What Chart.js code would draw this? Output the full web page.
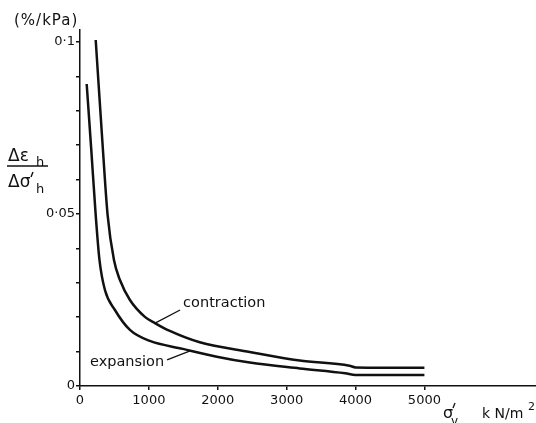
<!DOCTYPE html>
<html>
<head>
<meta charset="utf-8">
<script src="https://cdn.jsdelivr.net/npm/chart.js@4/dist/chart.umd.min.js"></script>
<style>
  body { margin: 0; background: #fff; }
  #wrap { width: 536px; height: 423px; }
</style>
</head>
<body>
<div id="wrap"><canvas id="strainChart" width="536" height="423"></canvas></div>
<script>
// sigma'v (kN/m2) against d(eps_h)/d(sigma'_h) (%/kPa)
const contractionX = [228, 333, 401, 493, 580, 725, 942, 1087, 1304, 1739, 2464, 3188, 3913, 4000, 5000];
const contractionY = [0.1006, 0.0686, 0.0497, 0.0366, 0.0308, 0.0250, 0.0201, 0.0183, 0.0160, 0.0127, 0.0099, 0.0074, 0.0059, 0.0054, 0.0053];

const expansionX = [97, 164, 228, 283, 362, 507, 725, 1014, 1493, 1986, 2464, 3188, 3850, 4000, 5000];
const expansionY = [0.0878, 0.0686, 0.0497, 0.0366, 0.0279, 0.0221, 0.0163, 0.0131, 0.0108, 0.0085, 0.0068, 0.0051, 0.0037, 0.0032, 0.0032];

const xTickValues = [0, 1000, 2000, 3000, 4000, 5000];
const xTickLabels = ['0', '1000', '2000', '3000', '4000', '5000'];
const yTickValues = [0, 0.01, 0.02, 0.03, 0.04, 0.05, 0.06, 0.07, 0.08, 0.09, 0.1];
const yTickLabels = ['0', '', '', '', '', '0·05', '', '', '', '', '0·1'];

const INK = '#111';
const FONT = "'DejaVu Sans', sans-serif";

function toPoints(xs, ys) {
    return xs.map((x, i) => ({ x: x, y: ys[i] }));
}

function prime(ctx, x, y) {
    ctx.beginPath();
    ctx.moveTo(x + 2, y - 4);
    ctx.lineTo(x, y + 1);
    ctx.stroke();
}

// axis titles and the two curve labels
const notes = {
    id: 'notes',
    afterDraw(chart) {
        const ctx = chart.ctx;
        const sx = chart.scales.x, sy = chart.scales.y;
        ctx.save();
        ctx.fillStyle = INK;
        ctx.strokeStyle = INK;
        ctx.textBaseline = 'alphabetic';

        // units above the y axis
        ctx.font = '15px ' + FONT;
        ctx.letterSpacing = '1px';
        ctx.fillText('(%/kPa)', 14, 25);
        ctx.letterSpacing = '0px';

        // y title as a fraction
        ctx.font = '17px ' + FONT;
        ctx.fillText('Δε', 8, 161);
        ctx.fillText('Δσ', 8, 187);
        ctx.font = '13px ' + FONT;
        ctx.fillText('h', 36, 166);
        ctx.fillText('h', 36, 193);
        ctx.lineWidth = 1.4;
        prime(ctx, 31, 176);
        ctx.lineWidth = 1.5;
        ctx.beginPath();
        ctx.moveTo(7, 166);
        ctx.lineTo(48, 166);
        ctx.stroke();

        // x title
        ctx.font = '16px ' + FONT;
        ctx.fillText('σ', 443, 418);
        ctx.font = '12px ' + FONT;
        ctx.fillText('v', 451, 425);
        ctx.lineWidth = 1.3;
        prime(ctx, 453, 407);
        ctx.font = '14px ' + FONT;
        ctx.fillText('k N/m', 482, 418);
        ctx.font = '11px ' + FONT;
        ctx.fillText('2', 528, 410);

        // curve labels with leader lines
        ctx.font = '14.5px ' + FONT;
        ctx.textBaseline = 'middle';
        ctx.fillText('contraction', sx.getPixelForValue(1497), sy.getPixelForValue(0.0241));
        ctx.fillText('expansion', sx.getPixelForValue(145), sy.getPixelForValue(0.0070));
        ctx.lineWidth = 1.3;
        ctx.beginPath();
        ctx.moveTo(sx.getPixelForValue(1453), sy.getPixelForValue(0.0221));
        ctx.lineTo(sx.getPixelForValue(1090), sy.getPixelForValue(0.0183));
        ctx.moveTo(sx.getPixelForValue(1264), sy.getPixelForValue(0.0076));
        ctx.lineTo(sx.getPixelForValue(1599), sy.getPixelForValue(0.0102));
        ctx.stroke();
        ctx.restore();
    }
};

const lineStyle = {
    borderColor: INK,
    borderWidth: 2.5,
    pointRadius: 0,
    fill: false,
    cubicInterpolationMode: 'monotone'
};

new Chart(document.getElementById('strainChart').getContext('2d'), {
    type: 'line',
    data: {
        datasets: [
            Object.assign({ label: 'contraction', data: toPoints(contractionX, contractionY) }, lineStyle),
            Object.assign({ label: 'expansion', data: toPoints(expansionX, expansionY) }, lineStyle)
        ]
    },
    options: {
        responsive: false,
        animation: false,
        layout: { padding: { top: 30, right: 0, left: 0, bottom: 0 } },
        plugins: { legend: { display: false }, tooltip: { enabled: false } },
        scales: {
            x: {
                type: 'linear',
                bounds: 'data',
                min: 0,
                max: 6620,
                border: { color: INK, width: 1.5 },
                grid: { drawOnChartArea: false, tickLength: 4, color: INK, lineWidth: 1.5 },
                ticks: {
                    autoSkip: false,
                    maxRotation: 0,
                    padding: 3,
                    color: INK,
                    font: { family: FONT, size: 13 },
                    callback: (v, i) => xTickLabels[i]
                },
                afterBuildTicks: (scale) => {
                    scale.ticks = xTickValues.map(v => ({ value: v }));
                },
                afterFit: (scale) => { scale.height = 37; }
            },
            y: {
                type: 'linear',
                bounds: 'data',
                min: 0,
                max: 0.1035,
                border: { color: INK, width: 1.5 },
                grid: { drawOnChartArea: false, tickLength: 4, color: INK, lineWidth: 1.5 },
                ticks: {
                    autoSkip: false,
                    padding: 1,
                    color: INK,
                    font: { family: FONT, size: 13 },
                    callback: (v, i) => yTickLabels[i]
                },
                afterBuildTicks: (scale) => {
                    scale.ticks = yTickValues.map(v => ({ value: v }));
                },
                afterFit: (scale) => { scale.width = 80; }
            }
        }
    },
    plugins: [notes]
});
</script>
</body>
</html>
